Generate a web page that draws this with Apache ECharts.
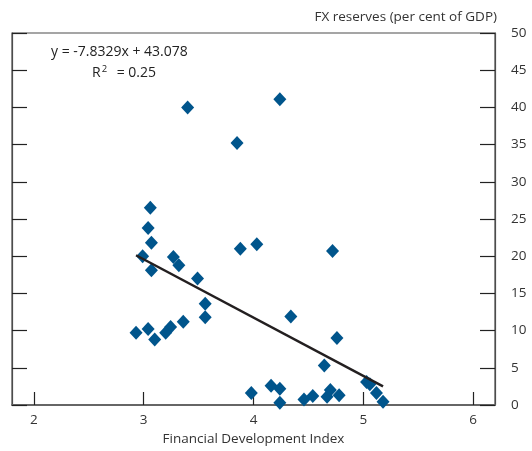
<!DOCTYPE html>
<html>
<head>
<meta charset="utf-8">
<script src="https://cdn.jsdelivr.net/npm/echarts@6/dist/echarts.min.js"></script>
<style>html,body{margin:0;padding:0;background:#fff}#c{width:532px;height:451px}</style>
</head>
<body>
<div id="c"></div>
<script>
// Financial Development Index (x) and FX reserves, % of GDP (y)
var fdIndex = [3.40, 4.24, 3.85, 3.88, 4.03, 3.06, 3.04, 3.07, 2.99, 3.07,
               3.27, 3.32, 3.49, 3.56, 3.56, 3.36, 3.245, 3.20, 3.10, 3.04,
               2.93, 4.72, 4.34, 4.76, 4.645, 3.98, 4.16, 4.24, 4.24, 4.46,
               4.54, 4.67, 4.70, 4.78, 5.03, 5.06, 5.12, 5.18];
var fxReserves = [40.0, 41.1, 35.2, 21.0, 21.6, 26.5, 23.8, 21.8, 20.0, 18.1,
                  19.9, 18.8, 17.0, 13.6, 11.8, 11.2, 10.5, 9.7, 8.8, 10.2,
                  9.7, 20.7, 11.9, 9.0, 5.3, 1.6, 2.6, 2.2, 0.3, 0.75,
                  1.2, 1.1, 2.0, 1.3, 3.1, 2.8, 1.6, 0.45];
var xTicks = [2, 3, 4, 5, 6];
var trendSlope = -7.8329;
var trendIntercept = 43.078;
var trendText = ['y = -7.8329x + 43.078', 'R{sup|2} = 0.25'];

var pts = fdIndex.map(function (x, i) { return [x, fxReserves[i]]; });
var xMin = Math.min.apply(null, fdIndex), xMax = Math.max.apply(null, fdIndex);
var trend = [[xMin, trendSlope * xMin + trendIntercept], [xMax, trendSlope * xMax + trendIntercept]];

var FONT = 'Open Sans';
var FS = 13.5;
var AX = '#4d4d4d';
var chart = echarts.init(document.getElementById('c'), null, {renderer: 'canvas'});
chart.setOption({
  animation: false,
  textStyle: {fontFamily: FONT},
  grid: {left: 12, right: 37, top: 33, bottom: 40, show: true, borderColor: AX, borderWidth: 1.2},
  xAxis: {
    type: 'value', min: 1.8, max: 6.2,
    name: 'Financial Development Index', nameLocation: 'middle', nameGap: 27,
    nameTextStyle: {fontFamily: FONT, fontSize: FS, color: '#333'},
    axisLine: {show: true, lineStyle: {color: '#666', width: 2}},
    axisTick: {show: true, inside: true, length: 13, customValues: xTicks, lineStyle: {color: '#222', width: 1.2}},
    axisLabel: {customValues: xTicks, fontFamily: FONT, fontSize: FS, color: '#333', margin: 8},
    splitLine: {show: false}
  },
  yAxis: [{
    type: 'value', min: 0, max: 50, interval: 5, position: 'right',
    name: 'FX reserves (per cent of GDP)', nameLocation: 'end', nameGap: 9,
    nameTextStyle: {fontFamily: FONT, fontSize: FS, color: '#333', align: 'right', padding: [0, -2, 0, 0]},
    axisLine: {show: true, lineStyle: {color: AX, width: 1.2}},
    axisTick: {show: true, inside: true, length: 15, lineStyle: {color: '#222', width: 1.2}},
    axisLabel: {fontFamily: FONT, fontSize: FS, color: '#333', margin: 16},
    splitLine: {show: false}
  }, {
    type: 'value', min: 0, max: 50, interval: 5, position: 'left',
    axisLine: {show: true, lineStyle: {color: AX, width: 1.2}},
    axisTick: {show: true, inside: true, length: 15, lineStyle: {color: '#222', width: 1.2}},
    axisLabel: {show: false},
    splitLine: {show: false}
  }],
  graphic: [{
    type: 'text', left: 51, top: 45,
    style: {text: trendText[0], font: '14px "Open Sans"', fill: '#222'}
  }, {
    type: 'text', left: 92, top: 64,
    style: {text: trendText[1], font: '14px "Open Sans"', fill: '#222',
      rich: {sup: {fontSize: 9.5, verticalAlign: 'top', padding: [0, 6, 8, 1], fontFamily: FONT}}}
  }],
  series: [{
    type: 'scatter', data: pts, symbol: 'diamond', symbolSize: [13, 14],
    itemStyle: {color: '#00558c', opacity: 1}, z: 3
  }, {
    type: 'line', data: trend, symbol: 'none', z: 4,
    lineStyle: {color: '#231f20', width: 2.5}
  }]
});
</script>
</body>
</html>
